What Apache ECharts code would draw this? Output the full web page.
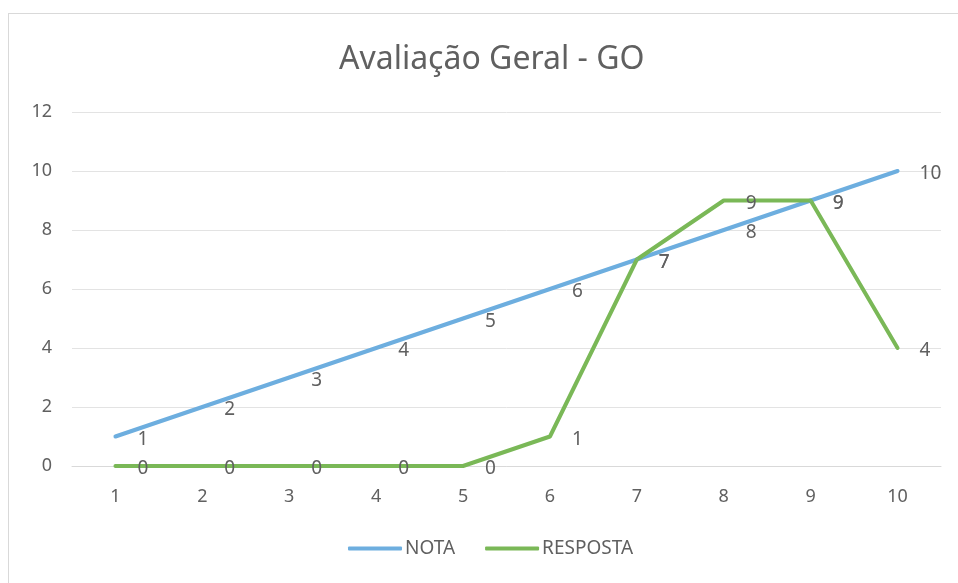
<!DOCTYPE html>
<html>
<head>
<meta charset="utf-8">
<script src="https://cdn.jsdelivr.net/npm/echarts@6/dist/echarts.min.js"></script>
<style>
  html, body { margin: 0; padding: 0; background: #fff; }
  #frame { position: absolute; left: 8px; top: 13px; width: 960px; height: 580px; border: 1px solid #d9d9d9; box-sizing: border-box; }
  #chart { position: absolute; left: 0; top: 0; width: 958px; height: 583px; }
</style>
</head>
<body>
<div id="frame"></div>
<div id="chart"></div>
<script>
const categories = ['1', '2', '3', '4', '5', '6', '7', '8', '9', '10'];
const nota = [1, 2, 3, 4, 5, 6, 7, 8, 9, 10];
const resposta = [0, 0, 0, 0, 0, 1, 7, 9, 9, 4];

const chart = echarts.init(document.getElementById('chart'));
const textColor = '#606060';
const font = '"Noto Sans", sans-serif';

// data labels sit to the right of each point, a little below
const label = {
  show: true,
  position: 'right',
  distance: 21,
  offset: [0, 3],
  color: textColor,
  fontSize: 19,
  fontFamily: font
};

chart.setOption({
  animation: false,
  title: {
    text: 'Avaliação Geral - GO',
    left: 334,
    top: 39,
    textStyle: { color: textColor, fontSize: 32, fontWeight: 'normal', fontFamily: font }
  },
  legend: {
    bottom: 20,
    left: 343,
    itemWidth: 54,
    itemHeight: 4,
    itemGap: 30,
    icon: 'roundRect',
    textStyle: { color: textColor, fontSize: 19, fontFamily: font, padding: [0, 0, 0, -2] },
    data: ['NOTA', 'RESPOSTA']
  },
  grid: { left: 72, right: 17, top: 112, bottom: 117 },
  xAxis: {
    type: 'category',
    data: categories,
    boundaryGap: true,
    axisLine: { show: true, lineStyle: { color: '#d9d9d9' } },
    axisTick: { show: false },
    axisLabel: { color: textColor, fontSize: 18, fontFamily: font, margin: 22 }
  },
  yAxis: {
    type: 'value',
    min: 0,
    max: 12,
    interval: 2,
    axisLine: { show: false },
    axisTick: { show: false },
    splitLine: { lineStyle: { color: '#e3e3e3' } },
    axisLabel: { color: textColor, fontSize: 18, fontFamily: font, margin: 20 }
  },
  series: [
    {
      name: 'NOTA',
      type: 'line',
      data: nota,
      showSymbol: true,
      symbol: 'circle',
      symbolSize: 2,
      lineStyle: { color: '#6DAEDF', width: 4, cap: 'round' },
      itemStyle: { color: '#6DAEDF' },
      label: label
    },
    {
      name: 'RESPOSTA',
      type: 'line',
      data: resposta,
      showSymbol: true,
      symbol: 'circle',
      symbolSize: 2,
      lineStyle: { color: '#7AB857', width: 4, cap: 'round' },
      itemStyle: { color: '#7AB857' },
      label: label
    }
  ]
});
</script>
</body>
</html>
